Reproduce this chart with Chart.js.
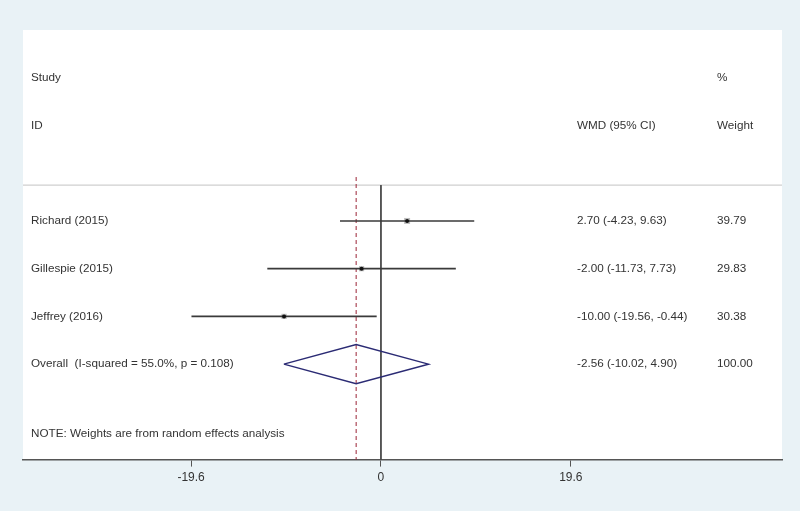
<!DOCTYPE html>
<html>
<head>
<meta charset="utf-8">
<script src="https://cdn.jsdelivr.net/npm/chart.js@4.4.0/dist/chart.umd.min.js"></script>
<style>
html,body{margin:0;padding:0;background:#e9f2f6;}
canvas{display:block;}
</style>
</head>
<body>
<canvas id="c" width="800" height="511"></canvas>
<script>
// ---- data ----
const studies = ['Richard (2015)', 'Gillespie (2015)', 'Jeffrey (2016)'];
const wmd = [2.70, -2.00, -10.00];
const lower = [-4.23, -11.73, -19.56];
const upper = [9.63, 7.73, -0.44];
const weights = [39.79, 29.83, 30.38];
const ciText = ['2.70 (-4.23, 9.63)', '-2.00 (-11.73, 7.73)', '-10.00 (-19.56, -0.44)'];
const weightText = ['39.79', '29.83', '30.38'];
const overallLabel = 'Overall  (I-squared = 55.0%, p = 0.108)';
const overallEst = -2.56;
const overallLo = -10.02;
const overallHi = 4.90;
const overallCiText = '-2.56 (-10.02, 4.90)';
const overallWeightText = '100.00';
const headerTop = ['Study', '', '%'];
const headerBottom = ['ID', 'WMD (95% CI)', 'Weight'];
const noteText = 'NOTE: Weights are from random effects analysis';
const xTicks = [-19.6, 0, 19.6];

// ---- layout (not data) ----
const X_MIN = -36.95, X_MAX = 41.4;
const Y_TOP = -4, Y_BOTTOM = 5;
const ROW_OVERALL = studies.length;
const ROW_SEP = -0.75, ROW_NOTE = 4.45, ROW_H1 = -3, ROW_H2 = -2;
const COL_X = [31, 577, 717];
const DIAMOND_H = 0.41;
const FONT = '"Liberation Sans", Arial, sans-serif';

const datasets = [];
// points (top)
datasets.push({type:'scatter', order:0, data: wmd.map((v,i)=>({x:v,y:i})),
  pointStyle:'circle', pointRadius:2, backgroundColor:'#111', borderWidth:0, clip:false});
// CI lines
studies.forEach((s,i)=>{
  datasets.push({type:'line', order:1, data:[{x:lower[i],y:i},{x:upper[i],y:i}],
    borderColor:'#3a3a3a', borderWidth:1.6, pointRadius:0, fill:false, clip:false});
});
// weight boxes
datasets.push({type:'scatter', order:2, data: wmd.map((v,i)=>({x:v,y:i})),
  pointStyle:'rect',
  pointRadius: (ctx)=> Math.sqrt(weights[ctx.dataIndex] || 0) * 0.67,
  pointBackgroundColor:'#bdbdbd', pointBorderColor:'#bdbdbd', pointBorderWidth:0,
  backgroundColor:'#bdbdbd', borderColor:'#bdbdbd', borderWidth:0, clip:false});
// diamond
datasets.push({type:'line', order:1, data:[
  {x:overallLo,y:ROW_OVERALL},{x:overallEst,y:ROW_OVERALL-DIAMOND_H},
  {x:overallHi,y:ROW_OVERALL},{x:overallEst,y:ROW_OVERALL+DIAMOND_H},
  {x:overallLo,y:ROW_OVERALL}],
  borderColor:'#2b2b74', borderWidth:1.5, pointRadius:0, fill:false, tension:0, clip:false});
// zero line
datasets.push({type:'line', order:3, data:[{x:0,y:ROW_SEP},{x:0,y:Y_BOTTOM}],
  borderColor:'#444', borderWidth:1, pointRadius:0, clip:false});
// overall dashed line
datasets.push({type:'line', order:3, data:[{x:overallEst,y:-0.92},{x:overallEst,y:Y_BOTTOM}],
  borderColor:'#9b2335', borderWidth:1, borderDash:[4,3], pointRadius:0, clip:false});
// separator
datasets.push({type:'line', order:4, data:[{x:X_MIN,y:ROW_SEP},{x:X_MAX,y:ROW_SEP}],
  borderColor:'#cfcfcf', borderWidth:1.2, pointRadius:0, clip:false});

const bgPlugin = {
  id:'bg',
  beforeDraw(chart){
    const {ctx, chartArea:a} = chart;
    ctx.save();
    ctx.fillStyle = '#e9f2f6';
    ctx.fillRect(0,0,chart.width,chart.height);
    ctx.fillStyle = '#ffffff';
    ctx.fillRect(a.left, a.top, a.right-a.left, a.bottom-a.top);
    ctx.restore();
  }
};

const textPlugin = {
  id:'texts',
  afterDatasetsDraw(chart){
    const ctx = chart.ctx, y = chart.scales.y;
    ctx.save();
    ctx.fillStyle = '#333';
    ctx.font = '11.7px ' + FONT;
    ctx.textBaseline = 'middle';
    ctx.textAlign = 'left';
    const put = (t, col, row) => { if (t) ctx.fillText(t, COL_X[col], y.getPixelForValue(row)); };
    headerTop.forEach((t,c)=>put(t,c,ROW_H1));
    headerBottom.forEach((t,c)=>put(t,c,ROW_H2));
    studies.forEach((s,i)=>{ put(s,0,i); put(ciText[i],1,i); put(weightText[i],2,i); });
    put(overallLabel,0,ROW_OVERALL);
    put(overallCiText,1,ROW_OVERALL);
    put(overallWeightText,2,ROW_OVERALL);
    put(noteText,0,ROW_NOTE);
    ctx.restore();
  }
};

new Chart(document.getElementById('c'), {
  data:{datasets},
  options:{
    responsive:false, animation:false,
    layout:{padding:{left:23, right:18, top:30, bottom:22}},
    plugins:{legend:{display:false}, tooltip:{enabled:false}},
    scales:{
      x:{type:'linear', min:X_MIN, max:X_MAX, position:'bottom',
        afterBuildTicks(s){ s.ticks = xTicks.map(v=>({value:v})); },
        ticks:{color:'#333', font:{size:12, family:FONT}, padding:4,
          maxRotation:0, autoSkip:false, callback:(v)=>String(v)},
        grid:{drawOnChartArea:false, drawTicks:true, tickLength:7, color:'#555', lineWidth:1},
        border:{display:true, color:'#555', width:1.5}
      },
      y:{type:'linear', display:false, reverse:true, min:Y_TOP, max:Y_BOTTOM}
    }
  },
  plugins:[bgPlugin, textPlugin]
});
</script>
</body>
</html>
